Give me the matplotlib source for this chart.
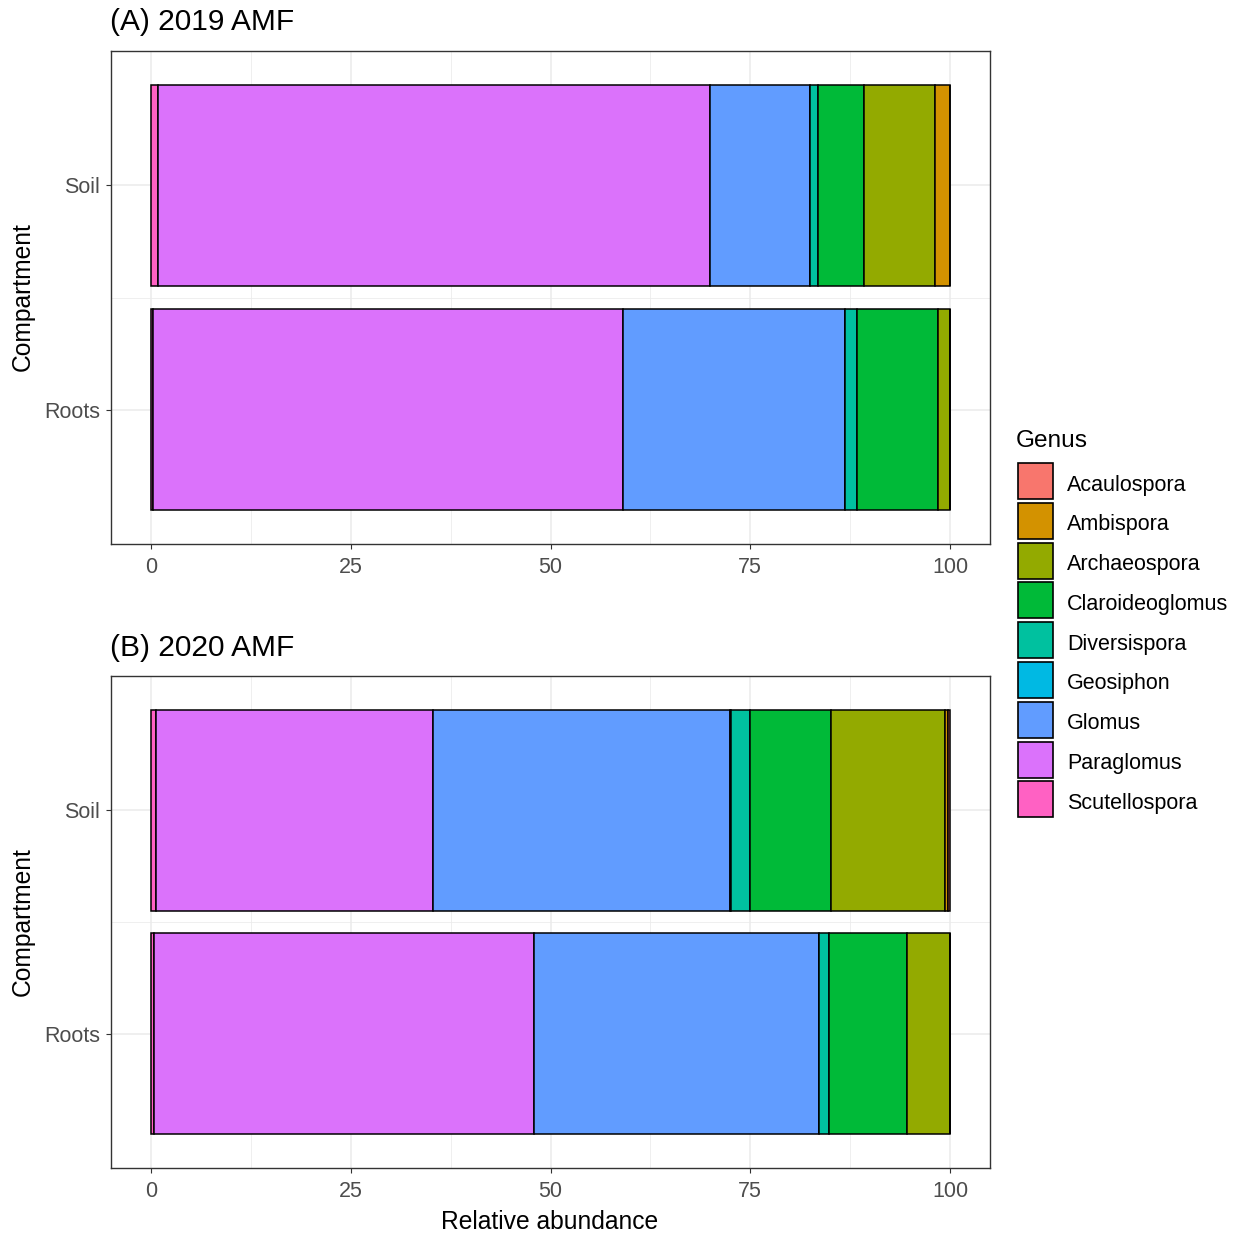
import numpy as np
import matplotlib
matplotlib.use("Agg")
import matplotlib.pyplot as plt
from matplotlib.patches import Rectangle

plt.rcParams['font.family'] = ['Liberation Sans', 'DejaVu Sans']

# genus levels and ggplot default hue colours
genera = ['Acaulospora', 'Ambispora', 'Archaeospora', 'Claroideoglomus',
          'Diversispora', 'Geosiphon', 'Glomus', 'Paraglomus', 'Scutellospora']
colors = ['#F8766D', '#D39200', '#93AA00', '#00BA38', '#00C19F',
          '#00B9E3', '#619CFF', '#DB72FB', '#FF61C3']
compartments = ['Roots', 'Soil']

# relative abundance (%) per genus, order: Roots, Soil
amf_2019 = {
    'Acaulospora':     [0.0, 0.0],
    'Ambispora':       [0.0, 1.9],
    'Archaeospora':    [1.5, 8.85],
    'Claroideoglomus': [10.1, 5.75],
    'Diversispora':    [1.5, 1.0],
    'Geosiphon':       [0.0, 0.0],
    'Glomus':          [27.8, 12.6],
    'Paraglomus':      [58.8, 69.0],
    'Scutellospora':   [0.3, 0.9],
}
amf_2020 = {
    'Acaulospora':     [0.0, 0.2],
    'Ambispora':       [0.0, 0.4],
    'Archaeospora':    [5.4, 14.3],
    'Claroideoglomus': [9.7, 10.1],
    'Diversispora':    [1.3, 2.35],
    'Geosiphon':       [0.0, 0.15],
    'Glomus':          [35.7, 37.25],
    'Paraglomus':      [47.5, 34.65],
    'Scutellospora':   [0.4, 0.6],
}

W, H = 1243, 1236
fig = plt.figure(figsize=(W / 100, H / 100), dpi=100)


def px_axes(left, top, right, bottom):
    return fig.add_axes([left / W, 1 - bottom / H, (right - left) / W, (bottom - top) / H])


def draw_panel(ax, data):
    ypos = np.arange(1, len(compartments) + 1)
    left = np.zeros(len(compartments))
    # ggplot stacks the last level first, starting from zero
    for g, c in zip(genera[::-1], colors[::-1]):
        vals = np.array(data[g])
        ax.barh(ypos, vals, left=left, height=0.9, color=c,
                edgecolor='black', linewidth=1.1, zorder=3)
        left += vals
    ax.set_xlim(-5, 105)
    ax.set_ylim(0.4, 2.6)
    ax.set_xticks([0, 25, 50, 75, 100])
    ax.set_xticks([12.5, 37.5, 62.5, 87.5], minor=True)
    ax.set_yticks(ypos)
    ax.set_yticks([1.5], minor=True)
    ax.set_yticklabels(compartments)
    ax.grid(True, which='major', color='#EBEBEB', linewidth=1.1, zorder=0)
    ax.grid(True, which='minor', color='#EBEBEB', linewidth=0.55, zorder=0)
    ax.set_axisbelow(True)
    ax.tick_params(which='major', length=3.5, width=0.8, color='#333333',
                   labelsize=15.5, labelcolor='#4D4D4D')
    ax.tick_params(axis='x', which='major', pad=6)
    ax.tick_params(axis='y', which='major', pad=4.5)
    ax.tick_params(which='minor', length=0)
    for s in ax.spines.values():
        s.set_color('#333333')
        s.set_linewidth(1.0)


ax1 = px_axes(111, 51, 990, 544)
ax2 = px_axes(111, 676, 990, 1168)
draw_panel(ax1, amf_2019)
draw_panel(ax2, amf_2020)

fig.text(110 / W, 1 - 22 / H, '(A) 2019 AMF', fontsize=21.5, va='center', ha='left')
fig.text(110 / W, 1 - 648 / H, '(B) 2020 AMF', fontsize=21.5, va='center', ha='left')
fig.text(23 / W, 1 - 297 / H, 'Compartment', fontsize=17.7, rotation=90, va='center', ha='center')
fig.text(23 / W, 1 - 922 / H, 'Compartment', fontsize=17.7, rotation=90, va='center', ha='center')
fig.text(550 / W, 1 - 1222 / H, 'Relative abundance', fontsize=17.7, va='center', ha='center')

# legend
fig.text(1016 / W, 1 - 441 / H, 'Genus', fontsize=17.6, va='center', ha='left')
key_top = 463
for i, (g, c) in enumerate(zip(genera, colors)):
    y0 = key_top + i * 39.8
    fig.add_artist(Rectangle((1018 / W, 1 - (y0 + 36) / H), 35 / W, 36 / H,
                             facecolor=c, edgecolor='black', linewidth=1.2,
                             transform=fig.transFigure))
    fig.text(1067 / W, 1 - (y0 + 22) / H, g, fontsize=15.5, va='center', ha='left')

fig.savefig('out.png', dpi=100, facecolor='white')
